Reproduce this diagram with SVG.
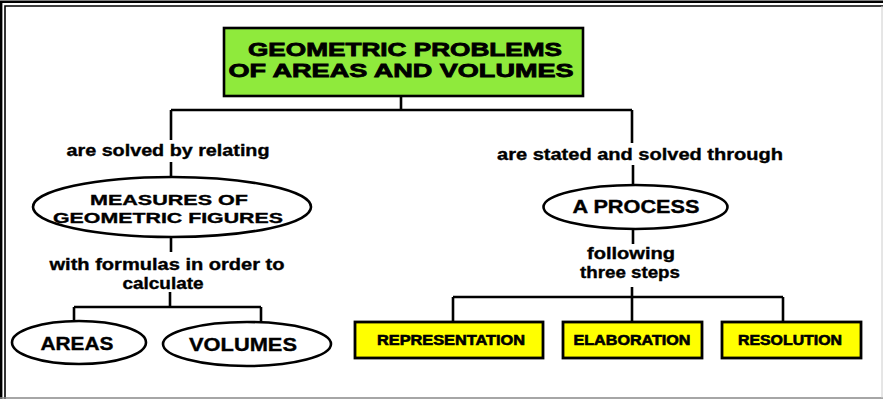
<svg xmlns="http://www.w3.org/2000/svg" width="883" height="399" viewBox="0 0 883 399">
<style>
.t{font-family:"Liberation Sans",Arial,sans-serif;font-weight:bold;fill:#000;text-anchor:middle;stroke:#000;stroke-width:0.35}
.lab{font-size:16px}
.big{font-size:18px}
.mid{font-size:15px}
.ttl{font-size:19px;stroke-width:0.8}
.stp{font-size:14px;stroke-width:0.6}
.ln{stroke:#000;stroke-width:2.6;fill:none}
.ell{fill:#fff;stroke:#000;stroke-width:2.6}
.ybox{fill:#ffff00;stroke:#000;stroke-width:2.8}
</style>
<rect width="883" height="399" fill="#fff"/>
<g id="frame" fill="none">
<path d="M1.2,399 V1.8 H883" stroke="#000" stroke-width="2.4"/>
<path d="M5,399 V6 H883" stroke="#000" stroke-width="1.6"/>
<path d="M0,398 H883" stroke="#888" stroke-width="1.5"/>
<path d="M882,6 V398" stroke="#ccc" stroke-width="1"/>
</g>
<g id="connectors">
<path class="ln" d="M401,96 V110"/>
<path class="ln" d="M171,110 H632"/>
<path class="ln" d="M171,110 V140"/>
<path class="ln" d="M171,162 V178"/>
<path class="ln" d="M171,237 V252"/>
<path class="ln" d="M170,292 V307"/>
<path class="ln" d="M74,307 H261"/>
<path class="ln" d="M74,307 V321"/>
<path class="ln" d="M261,307 V322"/>
<path class="ln" d="M632,110 V143"/>
<path class="ln" d="M633,165 V185"/>
<path class="ln" d="M633,229 V244"/>
<path class="ln" d="M632,287 V322"/>
<path class="ln" d="M453,297 H783"/>
<path class="ln" d="M453,297 V322"/>
<path class="ln" d="M783,297 V322"/>
</g>
<g id="title">
<rect x="224" y="28" width="359" height="68" fill="#8fea3c" stroke="#000" stroke-width="2.6"/>
<text class="t ttl" x="405" y="56" textLength="314" lengthAdjust="spacingAndGlyphs">GEOMETRIC PROBLEMS</text>
<text class="t ttl" x="401" y="77" textLength="345" lengthAdjust="spacingAndGlyphs">OF AREAS AND VOLUMES</text>
</g>
<g id="label-solved">
<text class="t lab" x="168" y="156" textLength="203" lengthAdjust="spacingAndGlyphs">are solved by relating</text>
</g>
<g id="measures">
<ellipse class="ell" cx="172" cy="207" rx="139" ry="30"/>
<text class="t mid" x="169" y="205" textLength="158" lengthAdjust="spacingAndGlyphs">MEASURES OF</text>
<text class="t mid" x="168" y="222.5" textLength="230" lengthAdjust="spacingAndGlyphs">GEOMETRIC FIGURES</text>
</g>
<g id="label-formulas">
<text class="t lab" x="167" y="270" textLength="235" lengthAdjust="spacingAndGlyphs">with formulas in order to</text>
<text class="t lab" x="163" y="289" textLength="81" lengthAdjust="spacingAndGlyphs">calculate</text>
</g>
<g id="areas">
<ellipse class="ell" cx="79" cy="342.5" rx="67" ry="21.5"/>
<text class="t big" x="77" y="350" textLength="73" lengthAdjust="spacingAndGlyphs">AREAS</text>
</g>
<g id="volumes">
<ellipse class="ell" cx="247" cy="344" rx="84" ry="22"/>
<text class="t big" x="243" y="351" textLength="108" lengthAdjust="spacingAndGlyphs">VOLUMES</text>
</g>
<g id="label-stated">
<text class="t lab" x="640" y="160" textLength="286" lengthAdjust="spacingAndGlyphs">are stated and solved through</text>
</g>
<g id="process">
<ellipse class="ell" cx="635.5" cy="207" rx="92" ry="22"/>
<text class="t big" x="636" y="213" textLength="127" lengthAdjust="spacingAndGlyphs">A PROCESS</text>
</g>
<g id="label-following">
<text class="t lab" x="631" y="259" textLength="88" lengthAdjust="spacingAndGlyphs">following</text>
<text class="t lab" x="630" y="278" textLength="100" lengthAdjust="spacingAndGlyphs">three steps</text>
</g>
<g id="representation">
<rect class="ybox" x="355" y="322" width="188" height="36"/>
<text class="t stp" x="451" y="345" textLength="148" lengthAdjust="spacingAndGlyphs">REPRESENTATION</text>
</g>
<g id="elaboration">
<rect class="ybox" x="563" y="322" width="139" height="36"/>
<text class="t stp" x="632" y="345" textLength="117" lengthAdjust="spacingAndGlyphs">ELABORATION</text>
</g>
<g id="resolution">
<rect class="ybox" x="722" y="322" width="139" height="36"/>
<text class="t stp" x="790" y="345" textLength="104" lengthAdjust="spacingAndGlyphs">RESOLUTION</text>
</g>
</svg>
